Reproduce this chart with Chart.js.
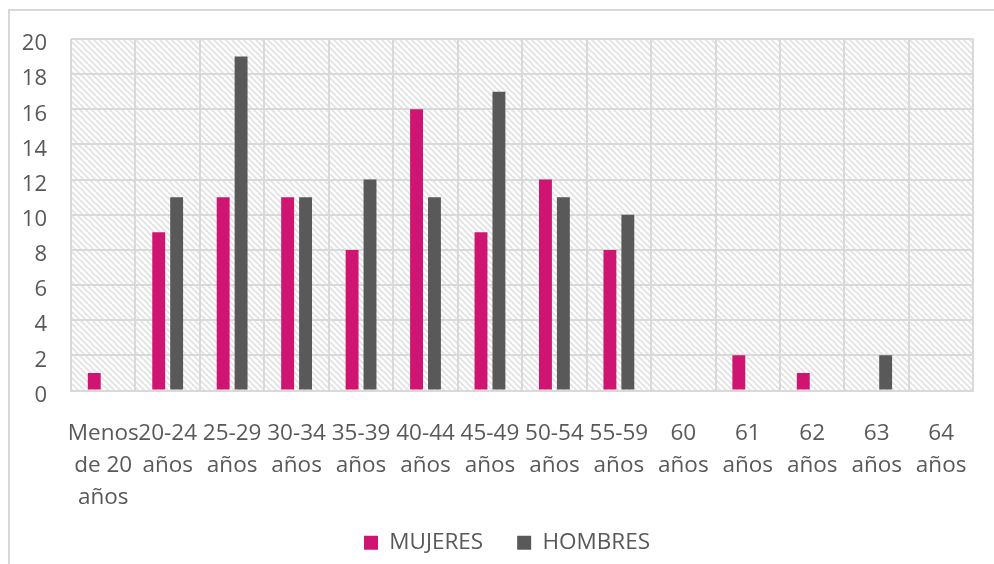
<!DOCTYPE html>
<html>
<head>
<meta charset="utf-8">
<script src="https://cdn.jsdelivr.net/npm/chart.js@4/dist/chart.umd.min.js"></script>
<style>
  html, body { margin: 0; padding: 0; background: #fff; }
  #wrap { position: relative; width: 994px; height: 564px; }
</style>
</head>
<body>
<div id="wrap"><canvas id="chart" width="994" height="564"></canvas></div>
<script>
// Data
const categories = [
  ['Menos', 'de 20', 'años'], ['20-24', 'años'], ['25-29', 'años'], ['30-34', 'años'],
  ['35-39', 'años'], ['40-44', 'años'], ['45-49', 'años'], ['50-54', 'años'],
  ['55-59', 'años'], ['60', 'años'], ['61', 'años'], ['62', 'años'], ['63', 'años'], ['64', 'años']
];
const mujeres = [1, 9, 11, 11, 8, 16, 9, 12, 8, 0, 2, 1, 0, 0];
const hombres = [0, 11, 19, 11, 12, 11, 17, 11, 10, 0, 0, 0, 2, 0];
const yTicks = [0, 2, 4, 6, 8, 10, 12, 14, 16, 18, 20];

const PINK = '#cf1472';
const GRAY = '#595959';
const GRID = '#d9d9d9';
const TEXT = '#595959';
const FONT = "'Open Sans', 'Noto Sans', sans-serif";

// Hatch pattern for the plot area
function makeHatch() {
  const s = 6;
  const c = document.createElement('canvas');
  c.width = s; c.height = s;
  const g = c.getContext('2d');
  g.fillStyle = '#ffffff';
  g.fillRect(0, 0, s, s);
  g.strokeStyle = '#e2e2e2';
  g.lineWidth = 1.8;
  g.beginPath();
  g.moveTo(-1, -1); g.lineTo(s + 1, s + 1);
  g.moveTo(-1, s - 1); g.lineTo(1, s + 1);
  g.moveTo(s - 1, -1); g.lineTo(s + 1, 1);
  g.stroke();
  return g.createPattern(c, 'repeat');
}

const backdrop = {
  id: 'backdrop',
  beforeDraw(chart) {
    const ctx = chart.ctx;
    const a = chart.chartArea;
    // let tick labels run outside their axis boxes
    chart.scales.x._computeLabelArea = () => undefined;
    chart.scales.y._computeLabelArea = () => undefined;
    ctx.save();
    // outer frame
    ctx.strokeStyle = '#d9d9d9';
    ctx.lineWidth = 2;
    ctx.strokeRect(9, 10, 1000, 600);
    // hatched plot area
    ctx.fillStyle = makeHatch();
    ctx.fillRect(a.left, a.top, a.right - a.left, a.bottom - a.top);
    ctx.restore();
  }
};

new Chart(document.getElementById('chart'), {
  type: 'bar',
  data: {
    labels: categories,
    datasets: [
      { label: 'MUJERES', data: mujeres, backgroundColor: PINK },
      { label: 'HOMBRES', data: hombres, backgroundColor: GRAY }
    ]
  },
  options: {
    responsive: false,
    animation: false,
    events: [],
    categoryPercentage: 0.556,
    barPercentage: 0.72,
    layout: { padding: { left: 36, top: 39, right: 16, bottom: 0 } },
    plugins: {
      tooltip: { enabled: false },
      legend: {
        position: 'bottom',
        labels: {
          boxWidth: 14,
          boxHeight: 14,
          padding: 34,
          color: TEXT,
          font: { family: FONT, size: 22.5 }
        }
      }
    },
    scales: {
      x: {
        grid: { color: GRID, lineWidth: 2, drawTicks: false },
        border: { color: GRID, width: 2 },
        ticks: {
          color: TEXT,
          padding: 27,
          maxRotation: 0,
          autoSkip: false,
          font: { family: FONT, size: 22.5, lineHeight: 1.43 }
        },
        afterFit(scale) { scale.height = 107; }
      },
      y: {
        min: 0,
        max: 20,
        afterBuildTicks(scale) { scale.ticks = yTicks.map(v => ({ value: v })); },
        grid: { color: GRID, lineWidth: 2, drawTicks: false },
        border: { display: false },
        ticks: {
          color: TEXT,
          padding: 24,
          labelOffset: 5,
          font: { family: FONT, size: 22 }
        },
        afterFit(scale) { scale.width = 35; }
      }
    }
  },
  plugins: [backdrop]
});
</script>
</body>
</html>
